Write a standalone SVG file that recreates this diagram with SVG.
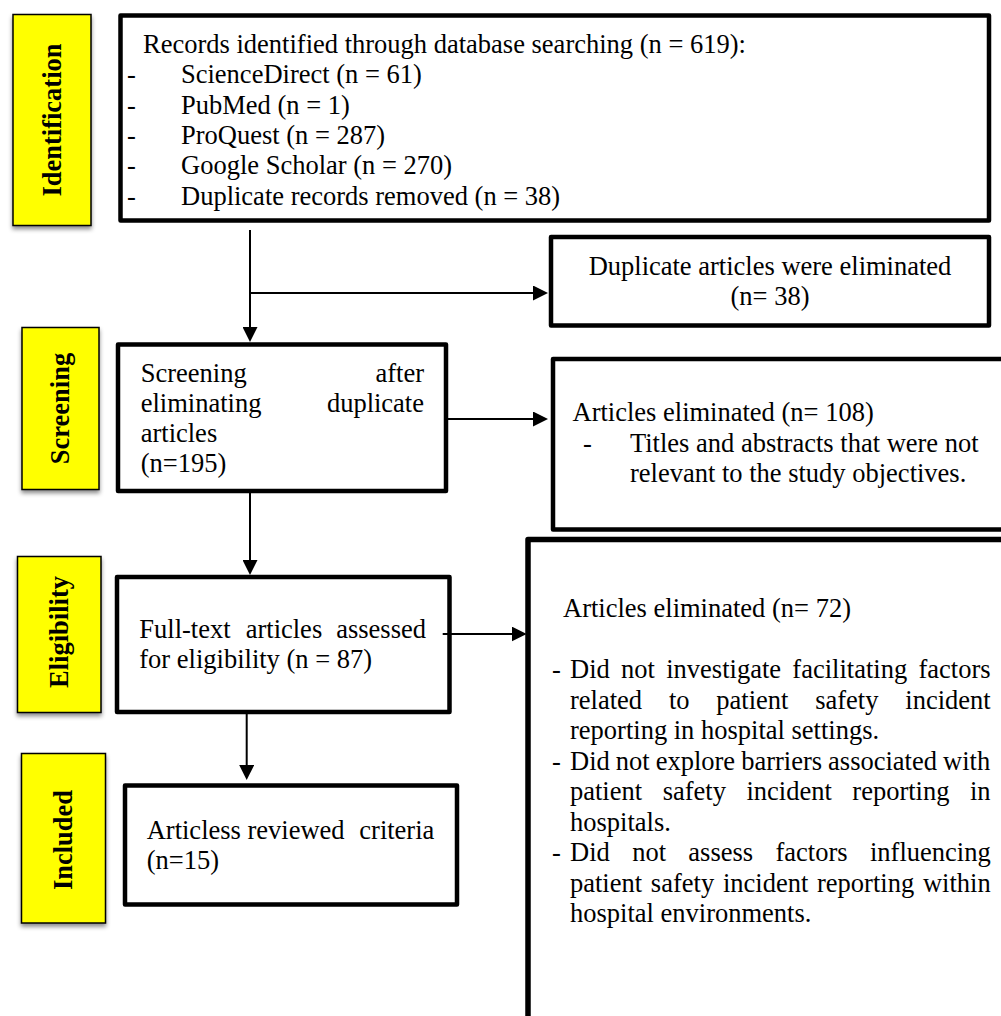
<svg xmlns="http://www.w3.org/2000/svg" width="1001" height="1016" viewBox="0 0 1001 1016">
<style>
  .t { font-family: "Liberation Serif", "Times New Roman", serif; font-size: 26.5px; fill: #000; font-variant-ligatures: none; }
  .lb { font-family: "Liberation Serif", "Times New Roman", serif; font-size: 26.5px; font-weight: bold; fill: #000; text-anchor: middle; font-variant-ligatures: none; }
  .box { fill: #fff; stroke: #000; stroke-width: 4.5; stroke-linejoin: round; }
  .ybox { fill: #ffff00; stroke: #000; stroke-width: 1.5; filter: url(#sh); }
  .conn line { stroke: #000; stroke-width: 2; fill: none; marker-end: url(#arr); }
</style>
<defs>
  <filter id="sh" x="-20%" y="-10%" width="140%" height="125%">
    <feDropShadow dx="0" dy="3" stdDeviation="2" flood-color="#000" flood-opacity="0.45"/>
  </filter>
  <marker id="arr" markerUnits="userSpaceOnUse" markerWidth="15" markerHeight="15" refX="5" refY="7.5" orient="auto">
    <path d="M0,0 L15,7.5 L0,15 z" fill="#000"/>
  </marker>
</defs>
<rect width="1001" height="1016" fill="#fff"/>

<g id="label-identification">
  <rect class="ybox" x="13" y="14.5" width="78" height="211"/>
  <text class="lb" transform="translate(61,120) rotate(-90)">Identification</text>
</g>
<g id="label-screening">
  <rect class="ybox" x="22" y="327.5" width="77" height="162"/>
  <text class="lb" transform="translate(69,408.5) rotate(-90)">Screening</text>
</g>
<g id="label-eligibility">
  <rect class="ybox" x="17.5" y="556.5" width="83.5" height="156"/>
  <text class="lb" transform="translate(68,632) rotate(-90)">Eligibility</text>
</g>
<g id="label-included">
  <rect class="ybox" x="21.5" y="753.5" width="84" height="169.5"/>
  <text class="lb" transform="translate(72,840) rotate(-90)">Included</text>
</g>

<g id="records">
  <rect class="box" x="120.5" y="15.5" width="868.5" height="205"/>
  <text class="t" x="143" y="53">Records identified through database searching (n = 619):</text>
  <text class="t" x="127" y="83.3">-</text><text class="t" x="181" y="83.3">ScienceDirect (n = 61)</text>
  <text class="t" x="127" y="113.6">-</text><text class="t" x="181" y="113.6">PubMed (n = 1)</text>
  <text class="t" x="127" y="143.9">-</text><text class="t" x="181" y="143.9">ProQuest (n = 287)</text>
  <text class="t" x="127" y="174.2">-</text><text class="t" x="181" y="174.2">Google Scholar (n = 270)</text>
  <text class="t" x="127" y="204.5">-</text><text class="t" x="181" y="204.5">Duplicate records removed (n = 38)</text>
</g>

<g id="duplicates">
  <rect class="box" x="551" y="237" width="438" height="88.5"/>
  <text class="t" x="770" y="275" text-anchor="middle">Duplicate articles were eliminated</text>
  <text class="t" x="770" y="305" text-anchor="middle">(n= 38)</text>
</g>

<g id="screening">
  <rect class="box" x="118" y="344.5" width="328" height="146.5"/>
  <text class="t" x="140.7" y="382">Screening</text>
  <text class="t" x="424" y="382" text-anchor="end">after</text>
  <text class="t" x="140.7" y="412">eliminating</text>
  <text class="t" x="424" y="412" text-anchor="end">duplicate</text>
  <text class="t" x="140.7" y="442">articles</text>
  <text class="t" x="140.7" y="472">(n=195)</text>
</g>

<g id="excluded-108">
  <rect class="box" x="553" y="359" width="470" height="170.5"/>
  <text class="t" x="572.5" y="421">Articles eliminated (n= 108)</text>
  <text class="t" x="583" y="451.5">-</text>
  <text class="t" x="630" y="451.5">Titles and abstracts that were not</text>
  <text class="t" x="630" y="482">relevant to the study objectives.</text>
</g>

<g id="eligibility">
  <rect class="box" x="117" y="577" width="332.5" height="135"/>
  <text class="t" x="139.3" y="638.3">Full-text</text>
  <text class="t" x="245.7" y="638.3">articles</text>
  <text class="t" x="426" y="638.3" text-anchor="end">assessed</text>
  <text class="t" x="139.3" y="668.3">for eligibility (n = 87)</text>
</g>

<g id="excluded-72">
  <rect class="box" x="528" y="539.5" width="500" height="500" style="stroke-width:5.5"/>
  <text class="t" x="563" y="617">Articles eliminated (n= 72)</text>
  <text class="t" x="552" y="678">-</text>
  <text class="t" x="570" y="678" word-spacing="4.69">Did not investigate facilitating factors</text>
  <text class="t" x="570" y="708.5" word-spacing="20.17">related to patient safety incident</text>
  <text class="t" x="570" y="739">reporting in hospital settings.</text>
  <text class="t" x="552" y="769.5">-</text>
  <text class="t" x="570" y="769.5" word-spacing="-0.6">Did not explore barriers associated with</text>
  <text class="t" x="570" y="800" word-spacing="13.9">patient safety incident reporting in</text>
  <text class="t" x="570" y="830.5">hospitals.</text>
  <text class="t" x="552" y="861">-</text>
  <text class="t" x="570" y="861" word-spacing="15.75">Did not assess factors influencing</text>
  <text class="t" x="570" y="891.5" word-spacing="2.13">patient safety incident reporting within</text>
  <text class="t" x="570" y="922">hospital environments.</text>
</g>

<g id="included">
  <rect class="box" x="125" y="785.5" width="332" height="119"/>
  <text class="t" x="146.7" y="839.3">Articless reviewed</text>
  <text class="t" x="359.3" y="839.3">criteria</text>
  <text class="t" x="146.7" y="869.3">(n=15)</text>
</g>

<g id="connectors" class="conn">
  <line x1="250" y1="230" x2="250" y2="332"/>
  <line x1="250" y1="293" x2="538" y2="293"/>
  <line x1="446" y1="419" x2="538" y2="419"/>
  <line x1="250" y1="491" x2="250" y2="565"/>
  <line x1="442.7" y1="634" x2="516.7" y2="634"/>
  <line x1="246.7" y1="712" x2="246.7" y2="770"/>
</g>
</svg>
